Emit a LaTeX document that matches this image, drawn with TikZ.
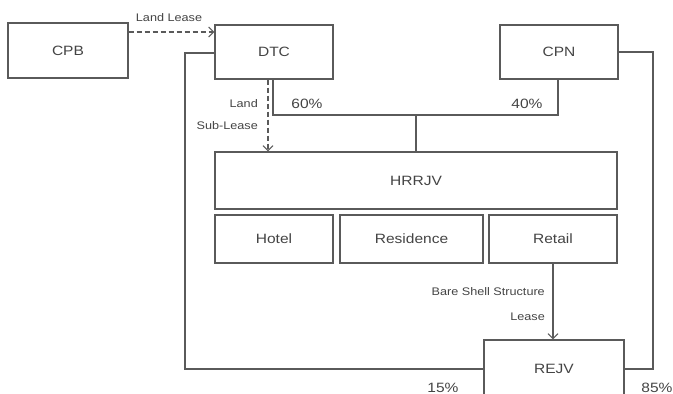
\documentclass[tikz,border=0pt]{standalone}
\usepackage{fontspec}
\setmainfont[FakeStretch=1.15]{Liberation Sans}
\usetikzlibrary{arrows.meta}
\definecolor{linegray}{HTML}{5A5A5A}
\definecolor{textgray}{HTML}{444444}
\tikzset{
  box/.style={draw=linegray, line width=1.1pt, fill=white, inner sep=0pt, text=textgray, font=\fontsize{13.5}{15}\selectfont},
  conn/.style={draw=linegray, line width=1.1pt},
  dashconn/.style={draw=linegray, line width=1.7pt, dash pattern=on 5pt off 3pt},
  tip/.style={-{Straight Barb[length=5pt,width=10pt,line width=1.1pt]}},
  lbl/.style={text=textgray, font=\fontsize{11}{13}\selectfont, inner sep=0pt},
  pct/.style={text=textgray, font=\fontsize{13.5}{15}\selectfont, inner sep=0pt},
}
\begin{document}
\begin{tikzpicture}[x=1pt,y=-1pt]
\useasboundingbox (0,0) rectangle (673,394);
\clip (0,0) rectangle (673,394);
% boxes
\node[box, minimum width=120pt, minimum height=55pt] (CPB) at (68,50.5) {CPB};
\node[box, minimum width=118pt, minimum height=54pt] (DTC) at (274,52) {DTC};
\node[box, minimum width=118pt, minimum height=54pt] (CPN) at (559,52) {CPN};
\node[box, minimum width=402pt, minimum height=57pt] (HRRJV) at (416,180.5) {HRRJV};
\node[box, minimum width=118pt, minimum height=48pt] (Hotel) at (274,239) {Hotel};
\node[box, minimum width=143pt, minimum height=48pt] (Residence) at (411.5,239) {Residence};
\node[box, minimum width=128pt, minimum height=48pt] (Retail) at (553,239) {Retail};
\node[box, minimum width=140pt, minimum height=58pt] (REJV) at (554,369) {REJV};
% helper coordinates
\coordinate (llY) at (0,32);
\coordinate (subX) at (268,0);
\coordinate (dtcX) at (273,0);
\coordinate (cpnX) at (558,0);
\coordinate (busY) at (0,115);
\coordinate (dtcW) at (0,53);
\coordinate (cpnE) at (0,52);
\coordinate (botY) at (0,369);
\coordinate (leftX) at (185,0);
\coordinate (rightX) at (653,0);
% land lease
\draw[dashconn, tip] (CPB.east |- llY) -- (DTC.west |- llY);
\node[lbl] (ll) at (169,18) {Land Lease};
% land sub-lease
\draw[dashconn, tip] (DTC.south -| subX) -- (HRRJV.north -| subX);
\node[lbl, anchor=east] (land) at (258,104) {Land};
\node[lbl, anchor=east] (sublease) at (258,126) {Sub-Lease};
% ownership of HRRJV
\draw[conn] (DTC.south -| dtcX) -- (dtcX |- busY) -- (cpnX |- busY) -- (CPN.south -| cpnX);
\draw[conn] (HRRJV.north |- busY) -- (HRRJV.north);
\node[pct] (p60) at (307,104) {60\%};
\node[pct] (p40) at (527,104) {40\%};
% ownership of REJV
\draw[conn] (DTC.west |- dtcW) -- (leftX |- dtcW) -- (leftX |- botY) -- (REJV.west |- botY);
\draw[conn] (CPN.east |- cpnE) -- (rightX |- cpnE) -- (rightX |- botY) -- (REJV.east |- botY);
\node[pct] (p15) at (443,388) {15\%};
\node[pct] (p85) at (657,388) {85\%};
% bare shell lease
\draw[conn, tip] (Retail.south) -- (Retail.south |- REJV.north);
\node[lbl, anchor=east] (bss) at (545,292) {Bare Shell Structure};
\node[lbl, anchor=east] (lease) at (545,317) {Lease};
\end{tikzpicture}
\end{document}
